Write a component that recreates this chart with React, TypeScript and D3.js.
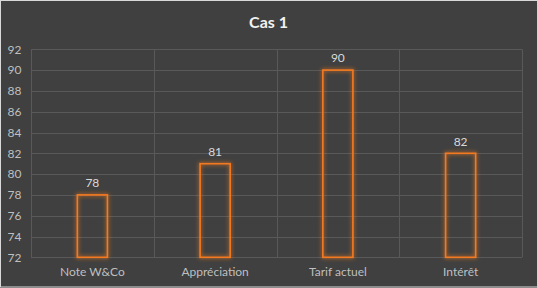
import React from "react";
import * as d3 from "d3";

const categories = ["Note W&Co", "Appréciation", "Tarif actuel", "Intérêt"];
const values = [78, 81, 90, 82];
const yTicks = [72, 74, 76, 78, 80, 82, 84, 86, 88, 90, 92];
const title = "Cas 1";

const W = 537;
const H = 288;
const margin = { left: 31, right: 15, top: 49.3, bottom: 30.7 };
const FONT = "Lato, 'Open Sans', sans-serif";

export default function App() {
  const x = d3
    .scaleBand<string>()
    .domain(categories)
    .range([margin.left, W - margin.right])
    .paddingInner(0)
    .paddingOuter(0);
  const y = d3
    .scaleLinear()
    .domain([72, 92])
    .range([H - margin.bottom, margin.top]);
  const barW = x.bandwidth() * 0.245;
  const bandEdges = categories.map((c) => x(c)!).concat([W - margin.right]);

  return (
    <div style={{ position: "absolute", left: 0, top: 0 }}>
      <svg width={W} height={H} style={{ display: "block" }}>
        <defs>
          <filter id="glow" x="-50%" y="-20%" width="200%" height="140%">
            <feGaussianBlur in="SourceGraphic" stdDeviation="2.2" result="b" />
            <feMerge>
              <feMergeNode in="b" />
              <feMergeNode in="SourceGraphic" />
            </feMerge>
          </filter>
        </defs>
        <rect x={0} y={0} width={W} height={H} fill="#404040" />
        <rect x={0.5} y={0.5} width={W} height={H - 1.5} fill="none" stroke="#d9d9d9" strokeWidth={1} />
        {yTicks.map((t) => (
          <g key={t}>
            <line
              x1={margin.left}
              x2={W - margin.right}
              y1={Math.round(y(t)) + 0.5}
              y2={Math.round(y(t)) + 0.5}
              stroke="#595959"
              strokeWidth={1}
            />
            <text
              x={21.5}
              y={y(t)}
              dy="0.35em"
              textAnchor="end"
              fill="#bfbfbf"
              fontSize={12}
              fontFamily={FONT}
            >
              {t}
            </text>
          </g>
        ))}
        {bandEdges.map((e, i) => (
          <line
            key={i}
            x1={Math.round(e) + 0.5}
            x2={Math.round(e) + 0.5}
            y1={y(92)}
            y2={y(72)}
            stroke="#595959"
            strokeWidth={1}
          />
        ))}
        {categories.map((c, i) => {
          const cx = x(c)! + x.bandwidth() / 2;
          const top = y(values[i]);
          return (
            <g key={c}>
              <rect
                x={cx - barW / 2}
                y={top}
                width={barW}
                height={y(72) - top}
                fill="none"
                stroke="#f47a20"
                strokeWidth={1.6}
                filter="url(#glow)"
              />
              <text
                x={cx}
                y={top - 12}
                dy="0.35em"
                textAnchor="middle"
                fill="#d9d9d9"
                fontSize={12}
                fontFamily={FONT}
              >
                {values[i]}
              </text>
              <text
                x={cx}
                y={272}
                dy="0.35em"
                textAnchor="middle"
                fill="#bfbfbf"
                fontSize={12}
                fontFamily={FONT}
              >
                {c}
              </text>
            </g>
          );
        })}
        <text
          x={W / 2}
          y={22}
          dy="0.35em"
          textAnchor="middle"
          fill="#f2f2f2"
          fontSize={16}
          fontWeight="bold"
          fontFamily={FONT}
        >
          {title}
        </text>
      </svg>
    </div>
  );
}
